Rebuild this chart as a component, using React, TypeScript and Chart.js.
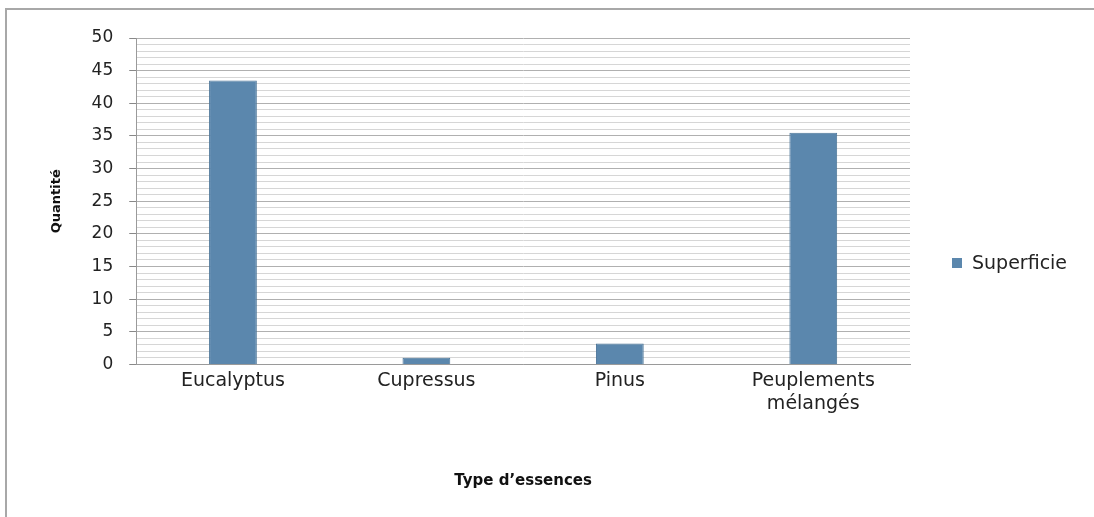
import React, { useEffect, useRef } from "react";
import { Chart, registerables } from "chart.js";

Chart.register(...registerables);

const categories: (string | string[])[] = ["Eucalyptus", "Cupressus", "Pinus", ["Peuplements", "mélangés"]];
const superficie: number[] = [43.5, 1, 3.2, 35.5];
const seriesLabel = "Superficie";
const yTitle = "Quantité";
const xTitle = "Type d’essences";

const FONT = "'DejaVu Sans', sans-serif";
const BAR = "#5B87AD";

const legendPlugin = {
  id: "customLegend",
  afterDraw(chart: any) {
    const ctx = chart.ctx;
    const ds = chart.data.datasets[0];
    ctx.save();
    ctx.fillStyle = ds.backgroundColor;
    ctx.fillRect(952, 258, 10, 10);
    ctx.fillStyle = "#222";
    ctx.font = `19px ${FONT}`;
    ctx.textBaseline = "middle";
    ctx.textAlign = "left";
    ctx.fillText(ds.label, 972, 264);
    ctx.restore();
  },
};

export default function App() {
  const ref = useRef<HTMLCanvasElement>(null);
  useEffect(() => {
    document.body.style.margin = "0";
    const chart = new Chart(ref.current!, {
      type: "bar",
      data: {
        labels: categories,
        datasets: [
          {
            label: seriesLabel,
            data: superficie,
            backgroundColor: BAR,
            borderColor: "#4C7699",
            borderWidth: 1,
            categoryPercentage: 1,
            barPercentage: 0.247,
          },
        ],
      },
      options: {
        responsive: false,
        animation: false,
        layout: { padding: { left: 34, right: 184, top: 38, bottom: 0 } },
        plugins: { legend: { display: false }, tooltip: { enabled: false } },
        scales: {
          x: {
            grid: { display: false, drawTicks: false, tickLength: 0 },
            border: { display: true, color: "#9a9a9a" },
            ticks: {
              color: "#222",
              font: { family: FONT, size: 19, lineHeight: 1.2 },
              padding: 5,
              maxRotation: 0,
              autoSkip: false,
            },
            title: {
              display: true,
              text: xTitle,
              color: "#111",
              font: { family: FONT, size: 15, weight: "bold", lineHeight: 1.2 },
              padding: { top: 52, bottom: 27 },
            },
          },
          y: {
            min: 0,
            max: 50,
            border: { display: true, color: "#9a9a9a" },
            grid: {
              color: (c: any) => (c.tick && c.tick.value % 5 === 0 ? "#b0b0b0" : "#d6d6d6"),
              tickColor: (c: any) => (c.tick && c.tick.value % 5 === 0 ? "#888" : "rgba(0,0,0,0)"),
              tickLength: 7,
            },
            ticks: {
              stepSize: 1,
              autoSkip: false,
              color: "#222",
              padding: 16,
              font: { family: FONT, size: 17 },
              callback: (v: any) => (Number(v) % 5 === 0 ? String(v) : ""),
            },
            title: {
              display: true,
              text: yTitle,
              color: "#111",
              font: { family: FONT, size: 13, weight: "bold", lineHeight: 1.2 },
              padding: { top: 15, bottom: 11 },
            },
          },
        },
      },
      plugins: [legendPlugin],
    });
    return () => chart.destroy();
  }, []);
  return (
    <div style={{ position: "absolute", left: 0, top: 0, width: 1094, height: 517, background: "#fff" }}>
      <canvas ref={ref} width={1094} height={517} style={{ position: "absolute", left: 0, top: 0 }} />
      <div
        style={{
          position: "absolute",
          left: 5,
          top: 8,
          width: 1089,
          height: 509,
          borderLeft: "2px solid #a8a8a8",
          borderTop: "2px solid #a8a8a8",
          boxSizing: "border-box",
          pointerEvents: "none",
        }}
      />
    </div>
  );
}
